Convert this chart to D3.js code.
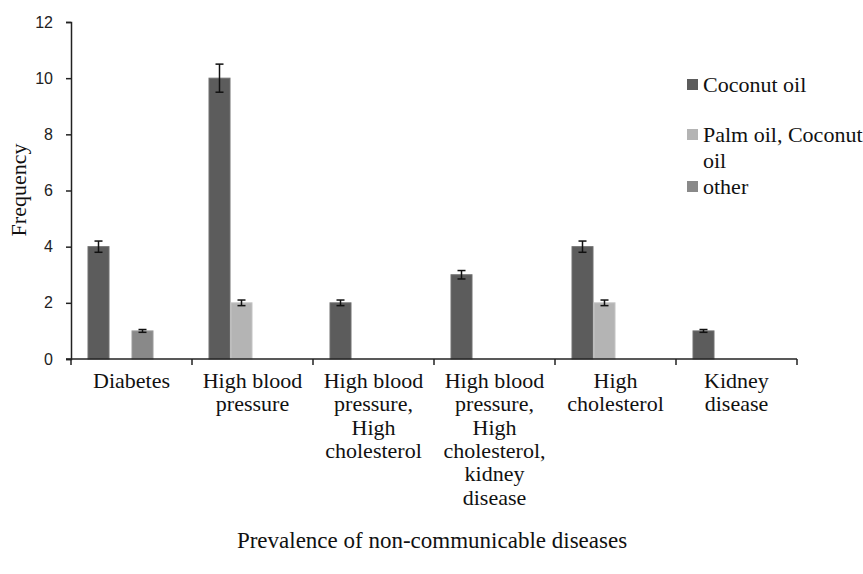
<!DOCTYPE html>
<html>
<head>
<meta charset="utf-8">
<script src="https://cdn.jsdelivr.net/npm/d3@7/dist/d3.min.js"></script>
<style>
  html, body { margin: 0; padding: 0; background: #fff; }
  svg { display: block; }
  .serif { font-family: "Liberation Serif", "Times New Roman", serif; fill: #111; }
  .tick-label { font-family: "Liberation Sans", Arial, sans-serif; font-size: 16px; fill: #222; }
</style>
</head>
<body>
<svg id="chart" width="863" height="574"></svg>
<script>
// Disease categories on the x axis
const categories = [
  "Diabetes",
  "High blood pressure",
  "High blood pressure, High cholesterol",
  "High blood pressure, High cholesterol, kidney disease",
  "High cholesterol",
  "Kidney disease"
];

// Series (oil used) and their frequencies per category
const seriesNames = ["Coconut oil", "Palm oil, Coconut oil", "other"];
const coconutOil = [4, 10, 2, 3, 4, 1];
const palmCoconutOil = [0, 2, 0, 0, 2, 0];
const otherOil = [1, 0, 0, 0, 0, 0];

// Error bar half-widths
const coconutErr = [0.2, 0.5, 0.1, 0.15, 0.2, 0.05];
const palmCoconutErr = [0, 0.1, 0, 0, 0.1, 0];
const otherErr = [0.05, 0, 0, 0, 0, 0];

// Y axis ticks
const yTicks = [0, 2, 4, 6, 8, 10, 12];

const seriesValues = [coconutOil, palmCoconutOil, otherOil];
const seriesErrors = [coconutErr, palmCoconutErr, otherErr];
const seriesColors = ["#5c5c5c", "#b4b4b4", "#898989"];
const seriesEdges = ["#707070", "#c4c4c4", "#9a9a9a"];

const svg = d3.select("#chart");
const plotLeft = 71, plotRight = 797, plotTop = 22, plotBottom = 359;

const x0 = d3.scaleBand().domain(categories).range([plotLeft, plotRight]).padding(0);
// four bar slots per category; the last slot stays empty
const x1 = d3.scaleBand().domain(d3.range(4)).range([0, x0.bandwidth()])
  .paddingInner(0).paddingOuter(0.75);
const y = d3.scaleLinear().domain([0, 12]).range([plotBottom, plotTop]);

// Bars
const barData = [];
seriesValues.forEach((vals, s) => {
  vals.forEach((v, i) => {
    if (v > 0) barData.push({ s, cat: categories[i], v, e: seriesErrors[s][i] });
  });
});

svg.append("g").selectAll("rect").data(barData).join("rect")
  .attr("x", d => x0(d.cat) + x1(d.s) + 0.5)
  .attr("y", d => y(d.v))
  .attr("width", x1.bandwidth() - 1)
  .attr("height", d => y(0) - y(d.v))
  .attr("fill", d => seriesColors[d.s])
  .attr("stroke", d => seriesEdges[d.s])
  .attr("stroke-width", 1);

// Error bars
const eg = svg.append("g").attr("stroke", "#111").attr("stroke-width", 1.5);
barData.filter(d => d.e > 0).forEach(d => {
  const cx = x0(d.cat) + x1(d.s) + x1.bandwidth() / 2;
  eg.append("line").attr("x1", cx).attr("x2", cx).attr("y1", y(d.v + d.e)).attr("y2", y(d.v - d.e));
  eg.append("line").attr("x1", cx - 4).attr("x2", cx + 4).attr("y1", y(d.v + d.e)).attr("y2", y(d.v + d.e));
  eg.append("line").attr("x1", cx - 4).attr("x2", cx + 4).attr("y1", y(d.v - d.e)).attr("y2", y(d.v - d.e));
});

// Y axis
const yAxis = svg.append("g").attr("transform", `translate(${plotLeft},0)`)
  .call(d3.axisLeft(y).tickValues(yTicks).tickSize(5).tickPadding(13));
yAxis.select(".domain").attr("stroke", "#222").attr("stroke-width", 1.5);
yAxis.selectAll(".tick line").attr("stroke", "#222").attr("stroke-width", 1.5);
yAxis.selectAll(".tick text").attr("class", "tick-label");

// X axis line and category boundary ticks
const xg = svg.append("g").attr("stroke", "#222").attr("stroke-width", 1.5);
xg.append("line").attr("x1", plotLeft - 5).attr("x2", plotRight).attr("y1", y(0)).attr("y2", y(0));
const edges = categories.map(c => x0(c)).concat([plotRight]);
xg.selectAll("line.edge").data(edges).join("line").attr("class", "edge")
  .attr("x1", d => d).attr("x2", d => d).attr("y1", y(0)).attr("y2", y(0) + 6);

// Category labels with word wrapping
const maxW = 110, lineH = 23.3;
categories.forEach(c => {
  const cx = x0(c) + x0.bandwidth() / 2;
  const t = svg.append("text").attr("class", "serif").attr("font-size", 22)
    .attr("text-anchor", "middle").attr("x", cx).attr("y", 388);
  const words = c.split(" ");
  let line = [];
  let ts = t.append("tspan").attr("x", cx).attr("dy", 0);
  words.forEach(w => {
    line.push(w);
    ts.text(line.join(" "));
    if (ts.node().getComputedTextLength() > maxW && line.length > 1) {
      line.pop();
      ts.text(line.join(" "));
      line = [w];
      ts = t.append("tspan").attr("x", cx).attr("dy", lineH).text(w);
    }
  });
});

// Axis titles
svg.append("text").attr("class", "serif").attr("font-size", 23).attr("text-anchor", "middle")
  .attr("x", (plotLeft + plotRight) / 2 - 2).attr("y", 548).text("Prevalence of non-communicable diseases");
svg.append("text").attr("class", "serif").attr("font-size", 22).attr("text-anchor", "middle")
  .attr("transform", "translate(26,190) rotate(-90)").text("Frequency");

// Legend
const legendRows = [
  { s: 0, y: 85, lines: [seriesNames[0]] },
  { s: 1, y: 135, lines: ["Palm oil, Coconut", "oil"] },
  { s: 2, y: 187, lines: [seriesNames[2]] }
];
const lg = svg.append("g");
legendRows.forEach(r => {
  lg.append("rect").attr("x", 687).attr("y", r.y - 6).attr("width", 11).attr("height", 11)
    .attr("fill", seriesColors[r.s]);
  const t = lg.append("text").attr("class", "serif").attr("font-size", 22)
    .attr("x", 703).attr("y", r.y + 7);
  r.lines.forEach((l, i) => t.append("tspan").attr("x", 703).attr("dy", i ? 25.5 : 0).text(l));
});
</script>
</body>
</html>
